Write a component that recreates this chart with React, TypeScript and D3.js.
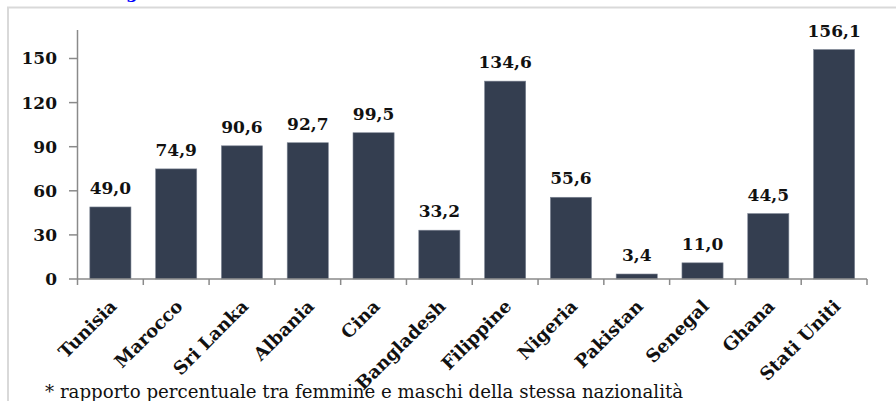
import React, { useEffect, useRef } from 'react';
import * as d3 from 'd3';

const countries = ['Tunisia', 'Marocco', 'Sri Lanka', 'Albania', 'Cina', 'Bangladesh', 'Filippine', 'Nigeria', 'Pakistan', 'Senegal', 'Ghana', 'Stati Uniti'];
const values = [49.0, 74.9, 90.6, 92.7, 99.5, 33.2, 134.6, 55.6, 3.4, 11.0, 44.5, 156.1];
const yTicks = [0, 30, 60, 90, 120, 150];
const note = '* rapporto percentuale tra femmine e maschi della stessa nazionalità';

const App = () => {
  const svgRef = useRef<SVGSVGElement>(null);

  useEffect(() => {
    const svg = d3.select(svgRef.current);
    svg.selectAll('*').remove();
    const width = 896;
    const height = 401;
    const font = '"DejaVu Serif", serif';

    const x = d3.scaleBand()
      .domain(countries)
      .range([77.5, 867])
      .paddingInner(0.375)
      .paddingOuter(0.1875);

    const y = d3.scaleLinear()
      .domain([0, 150])
      .range([279, 58.5]);

    // frame
    svg.append('path')
      .attr('d', `M8,${height} V7.5 H${width}`)
      .attr('fill', 'none')
      .attr('stroke', '#d9d9d9')
      .attr('stroke-width', 2);

    // bit of blue title cut off at top
    svg.append('text')
      .attr('x', 126)
      .attr('y', -2)
      .attr('fill', '#0000ff')
      .style('font-family', font)
      .style('font-weight', 'bold')
      .style('font-size', '17px')
      .text('g');

    const g = svg.append('g');

    g.selectAll('rect')
      .data(values)
      .enter()
      .append('rect')
      .attr('x', (d, i) => x(countries[i]))
      .attr('y', (d) => y(d))
      .attr('width', x.bandwidth())
      .attr('height', (d) => y(0) - y(d))
      .attr('fill', '#343e50')
      .attr('stroke', '#7d8594')
      .attr('stroke-width', 0.6);

    g.selectAll('text.val')
      .data(values)
      .enter()
      .append('text')
      .attr('class', 'val')
      .attr('x', (d, i) => x(countries[i]) + x.bandwidth() / 2)
      .attr('y', (d) => y(d) - 13)
      .attr('text-anchor', 'middle')
      .style('font-family', font)
      .style('font-weight', 'bold')
      .style('font-size', '17px')
      .attr('fill', '#111')
      .text((d) => d3.format('.1f')(d).replace('.', ','));

    // y axis
    const axisColor = '#8a8a8a';
    g.append('line')
      .attr('x1', 77.5).attr('x2', 77.5)
      .attr('y1', 30).attr('y2', y(0))
      .attr('stroke', axisColor).attr('stroke-width', 1.5);

    yTicks.forEach((t) => {
      g.append('line')
        .attr('x1', 69).attr('x2', 77.5)
        .attr('y1', y(t)).attr('y2', y(t))
        .attr('stroke', axisColor).attr('stroke-width', 1.5);
      g.append('text')
        .attr('x', 57)
        .attr('y', y(t))
        .attr('dy', '0.35em')
        .attr('text-anchor', 'end')
        .style('font-family', font)
        .style('font-weight', 'bold')
        .style('font-size', '17px')
        .attr('fill', '#111')
        .text(t);
    });

    // x axis
    g.append('line')
      .attr('x1', 77.5).attr('x2', 867)
      .attr('y1', y(0)).attr('y2', y(0))
      .attr('stroke', axisColor).attr('stroke-width', 1.5);

    const step = x.step();
    d3.range(countries.length + 1).forEach((i) => {
      const tx = 77.5 + i * step;
      g.append('line')
        .attr('x1', tx).attr('x2', tx)
        .attr('y1', y(0)).attr('y2', y(0) + 6)
        .attr('stroke', axisColor).attr('stroke-width', 1.5);
    });

    g.selectAll('text.cat')
      .data(countries)
      .enter()
      .append('text')
      .attr('class', 'cat')
      .attr('transform', (d) => `translate(${x(d) + x.bandwidth() / 2 + 3},${y(0) + 24}) rotate(-45)`)
      .attr('dy', '0.35em')
      .attr('text-anchor', 'end')
      .style('font-family', font)
      .style('font-weight', 'bold')
      .style('font-size', '18px')
      .attr('fill', '#111')
      .text((d) => d);

    svg.append('text')
      .attr('x', 45)
      .attr('y', 398)
      .style('font-family', font)
      .style('font-size', '18.2px')
      .attr('fill', '#111')
      .text(note);
  }, []);

  return (
    <svg ref={svgRef} width={896} height={401}
      style={{ position: 'absolute', left: 0, top: 0, background: '#fff' }} />
  );
};

export default App;
